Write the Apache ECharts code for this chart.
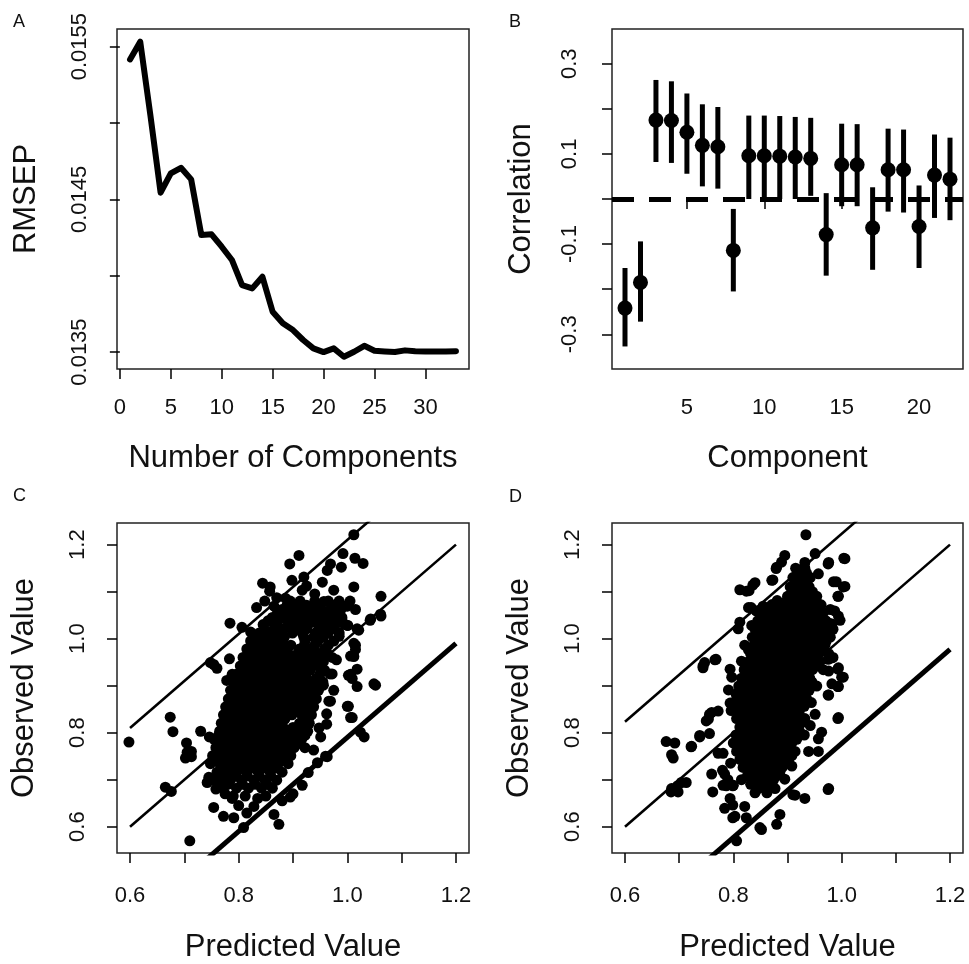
<!DOCTYPE html>
<html><head><meta charset="utf-8">
<script src="https://cdn.jsdelivr.net/npm/echarts@6/dist/echarts.min.js"></script>
<style>html,body{margin:0;padding:0;background:#fff}#c{width:969px;height:964px}</style>
</head><body><div id="c"></div>
<script>
const FONT = '"Liberation Sans", Arial, sans-serif';

// ---------- Panel A ----------
const aComp = [1,2,3,4,5,6,7,8,9,10,11,12,13,14,15,16,17,18,19,20,21,22,23,24,25,26,27,28,29,30,31,32,33];
const aRmsep = [0.015417,0.015533,0.01505,0.014544,0.014670,0.014707,0.014631,0.014266,0.014271,0.014190,
  0.014103,0.013939,0.013917,0.013993,0.013764,0.013688,0.013644,0.013579,0.013524,0.013500,
  0.013524,0.013469,0.013502,0.013541,0.013509,0.013504,0.013500,0.013511,0.013505,0.013504,
  0.013504,0.013504,0.013506];
const aXTicks = [0,5,10,15,20,25,30];
const aYTicks = [0.0135,0.0140,0.0145,0.0150,0.0155];
const aYLabels = [0.0135,0.0145,0.0155];

// ---------- Panel B ----------
const bComp = [1,2,3,4,5,6,7,8,9,10,11,12,13,14,15,16,17,18,19,20,21,22];
const bCorr = [-0.242,-0.185,0.175,0.174,0.148,0.119,0.116,-0.114,0.096,0.096,0.095,0.093,0.090,-0.079,0.076,0.076,-0.064,0.065,0.065,-0.061,0.053,0.044];
const bLow  = [-0.327,-0.272,0.082,0.080,0.056,0.028,0.023,-0.205,0.000,0.000,0.000,0.000,0.007,-0.170,-0.016,-0.016,-0.157,-0.028,-0.030,-0.153,-0.042,-0.047];
const bHigh = [-0.153,-0.094,0.264,0.261,0.234,0.210,0.204,-0.022,0.185,0.185,0.184,0.182,0.180,0.013,0.167,0.166,0.026,0.156,0.154,0.030,0.143,0.136];
const bXTicks = [5,10,15,20];
const bYTicks = [-0.3,-0.2,-0.1,0,0.1,0.2,0.3];
const bYLabels = [-0.3,-0.1,0.1,0.3];

// ---------- Panels C & D ----------
const pvTicks = [0.6,0.7,0.8,0.9,1.0,1.1,1.2];
const pvLabels = [0.6,0.8,1.0,1.2];
const lineX = [0.6, 1.2];
const cOffsets = [0.21, 0, -0.21];
const dOffsets = [0.223, 0, -0.223];

const cPoints = [[0.598,0.780],[0.674,0.833],[0.679,0.802],[0.665,0.684],[0.676,0.675],[0.704,0.778],[0.705,0.758],[0.713,0.760],[0.702,0.746],[0.713,0.749],
 [0.710,0.570],[0.730,0.803],[0.746,0.791],[0.748,0.949],[0.760,0.937],[0.754,0.945],[0.783,0.957],[0.778,0.911],[0.788,0.924],[0.784,1.033],
 [0.806,1.024],[0.822,1.014],[0.833,1.066],[0.844,1.118],[0.858,1.110],[0.857,1.101],[0.894,1.159],[0.911,1.177],[0.898,1.124],[0.920,1.131],
 [0.917,1.103],[0.886,1.086],[0.865,1.069],[0.954,1.120],[0.975,1.103],[0.957,1.079],[1.012,1.221],[0.992,1.181],[1.014,1.171],[1.029,1.160],
 [0.989,1.152],[0.969,1.159],[0.963,1.145],[1.012,1.110],[1.062,1.090],[0.969,1.062],[1.000,1.069],[1.015,1.062],[1.043,1.042],[1.062,1.048],
 [1.000,1.028],[1.018,1.021],[0.828,0.986],[1.015,0.986],[1.012,0.962],[1.006,0.924],[1.018,0.935],[1.049,0.904],[1.018,0.898],[1.000,0.856],
 [1.006,0.832],[1.031,0.791],[1.024,0.801],[0.969,0.867],[0.951,0.791],[0.945,0.736],[0.960,0.750],[0.917,0.688],[0.895,0.663],[0.900,0.670],
 [0.865,0.626],[0.874,0.605],[0.815,0.629],[0.828,0.643],[0.809,0.598],[0.788,0.660],[0.772,0.622],[0.791,0.619],[0.754,0.641],[0.742,0.694],
 [0.752,0.700],[0.938,0.763],[0.928,0.715],[1.002,0.856],[1.009,0.832],[0.999,1.070],[0.987,1.073],[1.061,1.052],[1.042,1.039],[1.021,1.018],
 [1.001,1.028],[1.012,0.990],[1.015,0.977],[1.006,0.963],[1.002,0.922],[1.009,0.915],[1.052,0.901],[0.966,0.867],[0.956,0.901],[0.975,0.890],
 [0.962,0.840],[0.963,0.749],[0.870,1.087],[0.905,1.060],[0.935,1.066],[0.880,0.655],[0.835,0.660],[0.800,0.645],[0.848,1.080],[0.925,1.112],
 [0.940,1.095],[0.990,1.040],[0.985,1.005],[0.980,0.955],[0.972,0.925],[0.745,0.705],[0.758,0.680],[0.775,0.670],[0.962,0.818],[0.948,0.810]];
const cCoreRows = [
 [1.080, 0.895,0.913,0.940,0.965,0.985,1.005],
 [1.062, 0.880,0.898,0.916,0.934,0.952,0.970,0.988],
 [1.045, 0.862,0.880,0.898,0.916,0.935,0.952,0.970,0.990],
 [1.030, 0.845,0.871,0.893,0.910,0.928,0.946,0.960,0.978,0.995],
 [1.012, 0.838,0.856,0.874,0.899,0.917,0.941,0.965,0.985],
 [0.995, 0.822,0.843,0.861,0.880,0.922,0.946,0.975],
 [0.978, 0.815,0.833,0.851,0.870,0.888,0.912,0.930,0.958],
 [0.960, 0.808,0.826,0.846,0.864,0.882,0.900,0.918,0.936,0.954,0.972],
 [0.942, 0.803,0.821,0.839,0.857,0.875,0.893,0.911,0.929,0.947],
 [0.925, 0.797,0.815,0.833,0.851,0.869,0.887,0.905,0.923,0.950,0.968],
 [0.908, 0.790,0.808,0.826,0.844,0.862,0.880,0.898,0.916,0.934,0.955],
 [0.890, 0.785,0.803,0.821,0.839,0.857,0.875,0.893,0.911,0.929,0.947],
 [0.872, 0.781,0.799,0.817,0.835,0.853,0.871,0.889,0.907,0.925,0.943],
 [0.855, 0.776,0.794,0.812,0.830,0.848,0.866,0.884,0.902,0.920,0.938],
 [0.838, 0.772,0.790,0.808,0.826,0.844,0.862,0.880,0.898,0.916,0.934],
 [0.820, 0.768,0.786,0.804,0.822,0.840,0.858,0.876,0.912,0.930],
 [0.803, 0.765,0.783,0.801,0.819,0.837,0.855,0.873,0.891,0.909,0.927],
 [0.786, 0.755,0.772,0.790,0.808,0.826,0.844,0.862,0.880,0.898,0.916],
 [0.768, 0.758,0.776,0.794,0.812,0.830,0.848,0.866,0.884,0.902,0.922],
 [0.751, 0.752,0.770,0.788,0.806,0.824,0.842,0.860,0.878,0.896],
 [0.734, 0.748,0.765,0.783,0.801,0.819,0.837,0.855,0.873,0.891],
 [0.716, 0.760,0.778,0.796,0.814,0.836,0.858,0.880],
 [0.699, 0.764,0.785,0.805,0.828,0.848,0.870],
 [0.682, 0.772,0.796,0.818,0.842,0.862],
 [0.665, 0.790,0.812,0.850]
];
const cCoreRowsB = [
 [1.071, 0.889,0.907,0.925,0.950,0.975],
 [1.053, 0.871,0.889,0.907,0.925,0.944,0.961,0.980],
 [1.038, 0.854,0.872,0.890,0.908,0.926,0.944,0.962,0.982],
 [1.021, 0.847,0.865,0.883,0.907,0.925,0.950,0.972],
 [1.003, 0.830,0.848,0.866,0.884,0.920,0.938,0.956],
 [0.986, 0.824,0.842,0.860,0.878,0.896,0.921,0.940,0.965],
 [0.969, 0.817,0.835,0.855,0.873,0.891,0.909,0.927,0.945,0.963],
 [0.951, 0.812,0.830,0.848,0.866,0.884,0.902,0.920,0.938,0.956],
 [0.933, 0.806,0.824,0.842,0.860,0.878,0.896,0.914,0.932,0.958],
 [0.916, 0.799,0.817,0.835,0.853,0.871,0.889,0.907,0.925,0.943],
 [0.899, 0.794,0.812,0.830,0.848,0.866,0.884,0.902,0.920,0.938],
 [0.881, 0.790,0.808,0.826,0.844,0.862,0.880,0.898,0.916,0.934],
 [0.863, 0.785,0.803,0.821,0.839,0.857,0.875,0.893,0.911,0.929],
 [0.846, 0.781,0.799,0.817,0.835,0.853,0.871,0.889,0.907,0.925],
 [0.829, 0.777,0.795,0.813,0.831,0.849,0.867,0.885,0.921],
 [0.811, 0.774,0.792,0.810,0.828,0.846,0.864,0.882,0.900,0.918],
 [0.794, 0.763,0.781,0.799,0.817,0.835,0.853,0.871,0.889,0.907,0.922],
 [0.777, 0.767,0.785,0.803,0.821,0.839,0.857,0.875,0.893,0.911],
 [0.760, 0.761,0.779,0.797,0.815,0.833,0.851,0.869,0.887],
 [0.742, 0.757,0.774,0.792,0.810,0.828,0.846,0.864,0.882],
 [0.725, 0.769,0.787,0.805,0.825,0.847,0.869],
 [0.708, 0.774,0.795,0.816,0.838,0.859],
 [0.690, 0.780,0.807,0.830,0.852]
];

const dPoints = [[0.934,1.221],[0.895,1.177],[0.880,1.152],[0.951,1.181],[0.932,1.162],[0.976,1.162],[1.004,1.171],[0.920,1.145],[0.957,1.138],[0.939,1.128],
 [0.840,1.119],[0.871,1.124],[0.829,1.102],[0.985,1.121],[1.003,1.110],[0.994,1.090],[0.908,1.110],[0.911,1.097],[0.926,1.100],[0.945,1.079],
 [0.828,1.066],[0.855,1.069],[0.871,1.072],[0.889,1.072],[0.957,1.066],[0.979,1.062],[0.994,1.048],[0.982,1.031],[0.812,1.035],[0.809,1.021],
 [0.834,1.028],[0.846,1.014],[0.821,0.986],[0.828,0.976],[0.747,0.949],[0.766,0.955],[0.744,0.938],[0.794,0.935],[0.797,0.918],[0.815,0.952],
 [0.982,0.959],[0.994,0.938],[1.000,0.918],[0.976,0.931],[0.982,0.904],[0.969,0.986],[0.676,0.781],[0.692,0.778],[0.686,0.753],[0.689,0.746],
 [0.723,0.771],[0.738,0.794],[0.754,0.829],[0.760,0.843],[0.686,0.681],[0.704,0.694],[0.698,0.674],[0.760,0.712],[0.772,0.756],[0.781,0.688],
 [0.794,0.660],[0.784,0.639],[0.803,0.622],[0.821,0.643],[0.824,0.619],[0.806,0.570],[0.849,0.598],[0.880,0.605],[0.886,0.626],[0.914,0.667],
 [0.932,0.660],[0.976,0.681],[0.994,0.832],[0.942,0.815],[0.963,0.801],[0.957,0.787],[0.939,0.760],[0.957,0.760],[0.951,0.839],[0.976,0.880],
 [0.994,0.898],[0.791,0.891],[0.794,0.863],[0.772,0.846],[0.908,0.729],[0.895,0.701],[0.877,0.681],[1.006,1.170],[0.975,1.159],[0.990,1.121],
 [1.006,1.111],[0.993,1.090],[0.987,1.059],[0.997,1.039],[0.978,1.032],[0.975,0.956],[0.984,0.960],[0.993,0.935],[1.003,0.918],[0.993,0.898],
 [0.975,0.880],[0.993,0.830],[0.975,0.679],[0.910,0.668],[0.852,0.594],[0.685,0.674],[0.697,0.687],[0.713,0.694],[0.722,0.770],[0.744,0.942],
 [0.768,0.956],[0.762,0.674],[0.738,0.791],[0.756,0.798],[0.756,0.839],[0.750,0.825],[0.781,0.756],[0.784,0.712],[0.787,0.687],[0.799,0.687],
 [0.799,0.646],[0.799,0.619],[0.812,1.104],[0.824,1.101],[0.836,1.114],[0.833,1.066],[0.842,1.059],[0.873,1.125],[0.879,1.149],[0.889,1.163],
 [0.929,1.149],[0.790,0.700],[0.800,0.688],[0.815,0.700],[0.780,0.720],[0.795,0.735]];
const dCoreRows = [
 [1.150, 0.915,0.932],
 [1.130, 0.910,0.925,0.942],
 [1.110, 0.905,0.922,0.940],
 [1.090, 0.900,0.918,0.936,0.954],
 [1.072, 0.872,0.890,0.908,0.926,0.944,0.962],
 [1.055, 0.858,0.876,0.894,0.912,0.930,0.948,0.966],
 [1.038, 0.845,0.863,0.881,0.899,0.917,0.935,0.953,0.971],
 [1.020, 0.840,0.858,0.876,0.894,0.912,0.930,0.948,0.966,0.984],
 [1.003, 0.835,0.853,0.871,0.889,0.907,0.925,0.943,0.961,0.979],
 [0.986, 0.838,0.856,0.874,0.892,0.910,0.928,0.946,0.964],
 [0.968, 0.832,0.850,0.868,0.886,0.904,0.922,0.940,0.958,0.976],
 [0.951, 0.828,0.846,0.864,0.882,0.900,0.918,0.936,0.960],
 [0.934, 0.820,0.838,0.856,0.874,0.892,0.910,0.928,0.946,0.966],
 [0.916, 0.815,0.833,0.851,0.869,0.887,0.905,0.923,0.941],
 [0.899, 0.810,0.828,0.846,0.864,0.882,0.900,0.918,0.936,0.954],
 [0.882, 0.805,0.823,0.841,0.859,0.877,0.895,0.913,0.931],
 [0.864, 0.800,0.818,0.836,0.854,0.872,0.890,0.908,0.926,0.944],
 [0.847, 0.796,0.814,0.832,0.850,0.868,0.886,0.904,0.922],
 [0.830, 0.806,0.824,0.842,0.860,0.878,0.896,0.914,0.932],
 [0.812, 0.812,0.830,0.848,0.866,0.884,0.902,0.920],
 [0.795, 0.805,0.823,0.841,0.859,0.877,0.895,0.913,0.931],
 [0.778, 0.800,0.818,0.836,0.854,0.872,0.890,0.908],
 [0.760, 0.806,0.824,0.842,0.860,0.878,0.896,0.914],
 [0.743, 0.812,0.830,0.848,0.866,0.884,0.902],
 [0.726, 0.818,0.836,0.854,0.872,0.890],
 [0.708, 0.826,0.844,0.862,0.880],
 [0.690, 0.832,0.852,0.870],
 [0.672, 0.840,0.862]
];
const dCoreRowsB = [
 [1.140, 0.918,0.935],
 [1.120, 0.915,0.932],
 [1.100, 0.910,0.928,0.946],
 [1.081, 0.881,0.899,0.917,0.935,0.953],
 [1.063, 0.867,0.885,0.903,0.921,0.939,0.957],
 [1.046, 0.852,0.870,0.888,0.906,0.924,0.942,0.960],
 [1.029, 0.849,0.867,0.885,0.903,0.921,0.939,0.957,0.975],
 [1.011, 0.844,0.862,0.880,0.898,0.916,0.934,0.952,0.970],
 [0.994, 0.845,0.863,0.881,0.899,0.917,0.935,0.953,0.971],
 [0.977, 0.841,0.859,0.877,0.895,0.913,0.931,0.949,0.967],
 [0.959, 0.837,0.855,0.873,0.891,0.909,0.927,0.945],
 [0.942, 0.829,0.847,0.865,0.883,0.901,0.919,0.937,0.955],
 [0.925, 0.824,0.842,0.860,0.878,0.896,0.914,0.932],
 [0.908, 0.819,0.837,0.855,0.873,0.891,0.909,0.927,0.945],
 [0.890, 0.814,0.832,0.850,0.868,0.886,0.904,0.922,0.940],
 [0.873, 0.809,0.827,0.845,0.863,0.881,0.899,0.917,0.935],
 [0.856, 0.805,0.823,0.841,0.859,0.877,0.895,0.913,0.931],
 [0.838, 0.812,0.830,0.848,0.866,0.884,0.902,0.920],
 [0.821, 0.818,0.836,0.854,0.872,0.890,0.908,0.926],
 [0.803, 0.814,0.832,0.850,0.868,0.886,0.904,0.922],
 [0.786, 0.809,0.827,0.845,0.863,0.881,0.899,0.917],
 [0.769, 0.812,0.830,0.848,0.866,0.884,0.902],
 [0.751, 0.818,0.836,0.854,0.872,0.890,0.908],
 [0.734, 0.824,0.842,0.860,0.878,0.896],
 [0.717, 0.832,0.850,0.868,0.886],
 [0.699, 0.838,0.856,0.874],
 [0.681, 0.846,0.866]
];

// ---------- build ----------
function expandRows(rows){ const out=[]; rows.forEach(r=>{ for(let i=1;i<r.length;i++) out.push([r[i], r[0]]); }); return out; }
const INK = '#111';
function mkX(gi, min, max, ticks, labels, fmt, name, nameGap, margin){
  return {type:'value', gridIndex:gi, min, max, splitLine:{show:false}, axisLine:{show:false},
    axisTick:{show:true, length:10, lineStyle:{color:'#000', width:1.5}, customValues:ticks},
    axisLabel:{customValues:labels, formatter:fmt, fontSize:22, color:INK, fontFamily:FONT, margin},
    name, nameLocation:'middle', nameGap, nameTextStyle:{fontSize:31, fontFamily:FONT, color:INK}};
}
function mkY(gi, min, max, ticks, labels, fmt, name, nameGap, margin){
  return {type:'value', gridIndex:gi, min, max, splitLine:{show:false}, axisLine:{show:false},
    axisTick:{show:true, length:10, lineStyle:{color:'#000', width:1.5}, customValues:ticks},
    axisLabel:{customValues:labels, formatter:fmt, rotate:90, fontSize:22, color:INK, fontFamily:FONT, margin},
    name, nameLocation:'middle', nameGap, nameRotate:90, nameTextStyle:{fontSize:31, fontFamily:FONT, color:INK}};
}
const gridStyle = {show:true, borderColor:'#222', borderWidth:1.5, backgroundColor:'transparent'};
function bandSeries(axisIdx, offsets){
  const widths = [2.6, 2.6, 5];
  return offsets.map((o,k)=>({type:'line', xAxisIndex:axisIdx, yAxisIndex:axisIdx, clip:true, z:2,
    data: lineX.map(x=>[x, x+o]), symbol:'none', silent:true,
    lineStyle:{color:'#000', width:widths[k], cap:'butt'}}));
}
const dotStyle = {color:'#000', opacity:1};

const option = {
  animation:false,
  grid:[
    Object.assign({left:117, top:29, width:352, height:340}, gridStyle),
    Object.assign({left:612, top:29, width:351, height:340}, gridStyle),
    Object.assign({left:117, top:523, width:352, height:340}, gridStyle),
    Object.assign({left:612, top:523, width:351, height:340}, gridStyle)
  ],
  xAxis:[
    mkX(0, -0.28, 34.28, aXTicks, aXTicks, v=>String(v), 'Number of Components', 74, 28),
    mkX(1, 0.16, 22.84, bXTicks, bXTicks, v=>String(v), 'Component', 74, 28),
    mkX(2, 0.576, 1.224, pvTicks, pvLabels, v=>v.toFixed(1), 'Predicted Value', 79, 32),
    mkX(3, 0.576, 1.224, pvTicks, pvLabels, v=>v.toFixed(1), 'Predicted Value', 79, 32)
  ],
  yAxis:[
    mkY(0, 0.013389, 0.015616, aYTicks, aYLabels, v=>v.toFixed(4), 'RMSEP', 75, 26),
    mkY(1, -0.377, 0.377, bYTicks, bYLabels, v=>v.toFixed(1), 'Correlation', 75, 31),
    mkY(2, 0.544, 1.246, pvTicks, pvLabels, v=>v.toFixed(1), 'Observed Value', 77, 28),
    mkY(3, 0.544, 1.246, pvTicks, pvLabels, v=>v.toFixed(1), 'Observed Value', 77, 28)
  ],
  graphic:[
    {type:'text', left:13, top:13, style:{text:'A', fontSize:18, fill:INK, fontFamily:FONT}},
    {type:'text', left:509, top:13, style:{text:'B', fontSize:18, fill:INK, fontFamily:FONT}},
    {type:'text', left:13, top:487, style:{text:'C', fontSize:18, fill:INK, fontFamily:FONT}},
    {type:'text', left:509, top:488, style:{text:'D', fontSize:18, fill:INK, fontFamily:FONT}}
  ],
  series:[
    {type:'line', xAxisIndex:0, yAxisIndex:0, data:aComp.map((c,i)=>[c, aRmsep[i]]), symbol:'none',
     lineStyle:{color:'#000', width:6, join:'round', cap:'round'}},
    {type:'custom', xAxisIndex:1, yAxisIndex:1, data:bComp.map((c,i)=>[c, bLow[i], bHigh[i]]),
     encode:{x:0, y:[1,2]},
     renderItem:(params, api)=>{
       const p1 = api.coord([api.value(0), api.value(1)]);
       const p2 = api.coord([api.value(0), api.value(2)]);
       return {type:'line', shape:{x1:p1[0], y1:p1[1], x2:p2[0], y2:p2[1]}, style:{stroke:'#000', lineWidth:5}};
     }, z:2},
    {type:'scatter', xAxisIndex:1, yAxisIndex:1, data:bComp.map((c,i)=>[c, bCorr[i]]), symbolSize:15,
     itemStyle:dotStyle, z:3,
     markLine:{silent:true, symbol:'none', label:{show:false}, data:[{yAxis:0}],
       lineStyle:{color:'#000', width:5, type:[22,15], opacity:1}}},
    ...bandSeries(2, cOffsets),
    {type:'scatter', xAxisIndex:2, yAxisIndex:2,
     data:cPoints.concat(expandRows(cCoreRows), expandRows(cCoreRowsB)), symbolSize:11,
     itemStyle:dotStyle, z:3},
    ...bandSeries(3, dOffsets),
    {type:'scatter', xAxisIndex:3, yAxisIndex:3,
     data:dPoints.concat(expandRows(dCoreRows), expandRows(dCoreRowsB)), symbolSize:11,
     itemStyle:dotStyle, z:3}
  ]
};
const chart = echarts.init(document.getElementById('c'));
chart.setOption(option);
</script>
</body></html>
